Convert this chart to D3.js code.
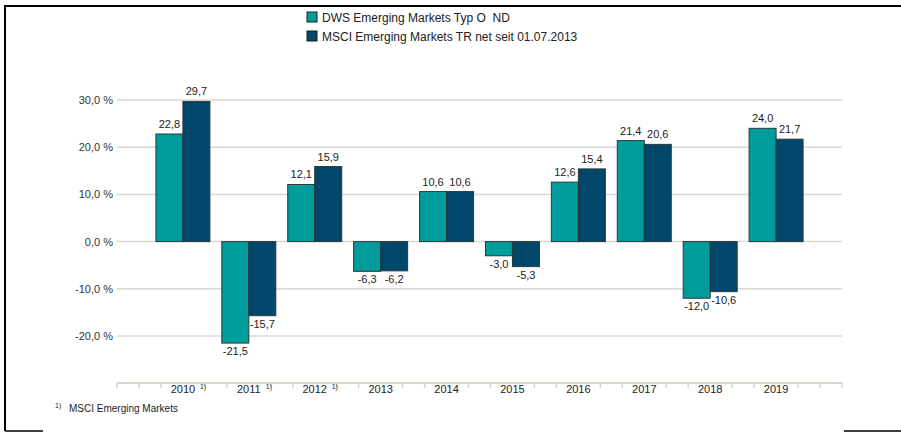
<!DOCTYPE html>
<html>
<head>
<meta charset="utf-8">
<script src="https://cdn.jsdelivr.net/npm/d3@7"></script>
<style>
  body { margin: 0; background: #fff; }
  text { font-family: "Liberation Sans", Arial, sans-serif; }
</style>
</head>
<body>
<svg id="chart" width="901" height="435"></svg>
<script>
// data
var years = ["2010", "2011", "2012", "2013", "2014", "2015", "2016", "2017", "2018", "2019"];
var footnoted = ["2010", "2011", "2012"];
var fundValues = [22.8, -21.5, 12.1, -6.3, 10.6, -3.0, 12.6, 21.4, -12.0, 24.0];
var indexValues = [29.7, -15.7, 15.9, -6.2, 10.6, -5.3, 15.4, 20.6, -10.6, 21.7];
var seriesNames = ["DWS Emerging Markets Typ O  ND", "MSCI Emerging Markets TR net seit 01.07.2013"];
var seriesColors = ["#009c9c", "#00476b"];
var yTicks = [-20, -10, 0, 10, 20, 30];
var footnoteText = "MSCI Emerging Markets";

var svg = d3.select("#chart");
// german decimal comma, plain hyphen for negatives
var fmt = function (v) { return d3.format(".1f")(v).replace(".", ",").replace("\u2212", "-"); };

// x: year index -> centre of group, one empty slot on each side
var x = d3.scaleLinear().domain([-1, years.length]).range([117, 842]);
var y = d3.scaleLinear().domain([-20, 30]).range([336, 100]);
var barW = 27;

// frame
svg.append("path").attr("d", "M5,431V6H901").attr("fill", "none").attr("stroke", "#000").attr("stroke-width", 2);
svg.append("line").attr("x1", 5).attr("x2", 43).attr("y1", 431).attr("y2", 431).attr("stroke", "#000").attr("stroke-width", 1.5);
svg.append("line").attr("x1", 844).attr("x2", 901).attr("y1", 431).attr("y2", 431).attr("stroke", "#000").attr("stroke-width", 1.5);

// grid + y labels
var grid = svg.append("g");
grid.selectAll("line").data(yTicks).enter().append("line")
    .attr("x1", 117).attr("x2", 842)
    .attr("y1", function (d) { return y(d); }).attr("y2", function (d) { return y(d); })
    .attr("stroke", "#dcd8d2").attr("stroke-width", 1.5);
grid.selectAll("text").data(yTicks).enter().append("text")
    .attr("x", 113).attr("y", function (d) { return y(d) + 4; })
    .attr("text-anchor", "end").attr("font-size", 11).attr("fill", "#333")
    .text(function (d) { return fmt(d) + " %"; });

// x axis line with minor ticks at thirds, none under the year labels
var axisY = 383;
svg.append("line").attr("x1", x(-1)).attr("x2", x(years.length)).attr("y1", axisY).attr("y2", axisY)
    .attr("stroke", "#d9d4cb").attr("stroke-width", 2);
var tickPos = [];
for (var i = -1; i < years.length; i++) {
    tickPos.push(i + 1 / 3, i + 2 / 3);
}
tickPos.push(-1, years.length);
svg.append("g").selectAll("line").data(tickPos).enter().append("line")
    .attr("x1", function (d) { return x(d); }).attr("x2", function (d) { return x(d); })
    .attr("y1", axisY).attr("y2", axisY + 5)
    .attr("stroke", "#d9d4cb").attr("stroke-width", 1.5);

var xl = svg.append("g").selectAll("g").data(years).enter().append("g")
    .attr("transform", function (d, i) { return "translate(" + x(i) + "," + 393 + ")"; });
xl.append("text").attr("text-anchor", "middle").attr("font-size", 11).attr("fill", "#222").text(function (d) { return d; });
xl.filter(function (d) { return footnoted.indexOf(d) >= 0; }).append("text")
    .attr("x", 17).attr("y", -4).attr("font-size", 7).attr("fill", "#222").text("1)");

// bars
var series = [fundValues, indexValues];
series.forEach(function (vals, s) {
    var g = svg.append("g");
    g.selectAll("rect").data(vals).enter().append("rect")
        .attr("x", function (d, i) { return x(i) - barW + s * barW; })
        .attr("width", barW)
        .attr("y", function (d) { return y(Math.max(0, d)); })
        .attr("height", function (d) { return Math.abs(y(d) - y(0)); })
        .attr("fill", seriesColors[s]).attr("stroke", "#2a3a3a").attr("stroke-width", 1);
    g.selectAll("text").data(vals).enter().append("text")
        .attr("x", function (d, i) { return x(i) - barW / 2 + s * barW; })
        .attr("y", function (d) { return d >= 0 ? y(d) - 6 : y(d) + 12; })
        .attr("text-anchor", "middle").attr("font-size", 11).attr("fill", "#222")
        .text(function (d) { return fmt(d); });
});

// legend
var leg = svg.append("g").selectAll("g").data(seriesNames).enter().append("g")
    .attr("transform", function (d, i) { return "translate(307," + (12 + i * 19) + ")"; });
leg.append("rect").attr("width", 10).attr("height", 10)
    .attr("fill", function (d, i) { return seriesColors[i]; }).attr("stroke", "#222").attr("stroke-width", 1);
leg.append("text").attr("x", 15).attr("y", 9.5).attr("font-size", 12).attr("fill", "#222")
    .attr("xml:space", "preserve").style("white-space", "pre").text(function (d) { return d; });

// footnote
svg.append("text").attr("x", 55).attr("y", 408).attr("font-size", 7).attr("fill", "#222").text("1)");
svg.append("text").attr("x", 69).attr("y", 412).attr("font-size", 10).attr("fill", "#222").text(footnoteText);
</script>
</body>
</html>
